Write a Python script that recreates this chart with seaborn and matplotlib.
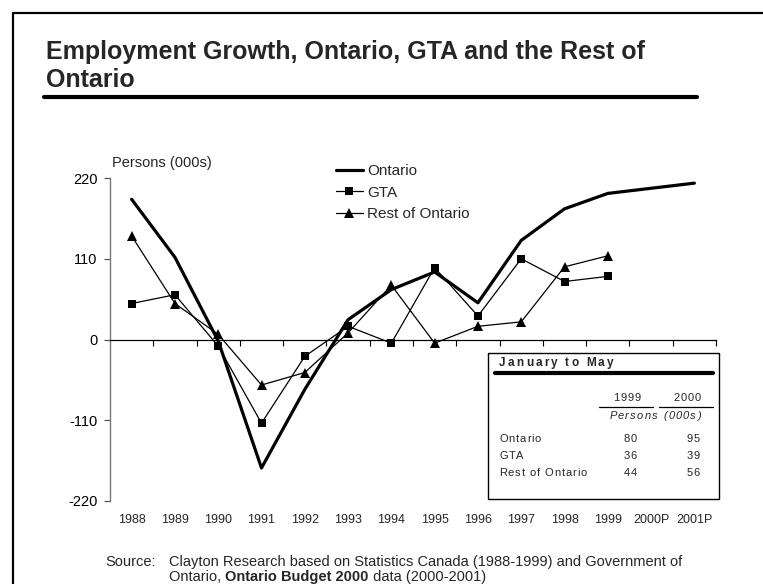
import matplotlib
matplotlib.use("Agg")
import matplotlib.pyplot as plt
from matplotlib.lines import Line2D
from matplotlib.patches import Rectangle
import numpy as np
import seaborn as sns

# ---- data -------------------------------------------------------------
years = ["1988", "1989", "1990", "1991", "1992", "1993", "1994", "1995",
         "1996", "1997", "1998", "1999", "2000P", "2001P"]
ontario = [191, 112, -2, -175, -68, 27, 68, 92, 50, 135, 178, 199, 206, 213]
gta = [49, 61, -9, -114, -23, 18, -5, 98, 32, 110, 79, 86]
rest_of_ontario = [141, 49, 7, -62, -45, 9, 74, -5, 18, 24, 99, 114]
y_ticks = [-220, -110, 0, 110, 220]

table_title = "January to May"
table_years = ["1999", "2000"]
table_rows = ["Ontario", "GTA", "Rest of Ontario"]
table_1999 = [80, 36, 44]
table_2000 = [95, 39, 56]

# ---- styling ----------------------------------------------------------
sns.set_theme(style="white")
plt.rcParams["font.family"] = ["Liberation Sans", "DejaVu Sans"]

W, H = 763, 584
fig = plt.figure(figsize=(W / 100, H / 100), dpi=100)
fig.patch.set_facecolor("white")


def fx(px):
    return px / W


def fy(py):
    return 1 - py / H


renderer = fig.canvas.get_renderer()


def text_width(s, **kw):
    t = fig.text(0, 0, s + "|", **kw)
    w = t.get_window_extent(renderer).width
    t.remove()
    b = fig.text(0, 0, "|", **kw)
    wb = b.get_window_extent(renderer).width
    b.remove()
    return w - wb


def spaced_text(x_px, y_px, s, track=1.0, ha="left", **kw):
    """Draw text with extra letter spacing; y_px is the baseline."""
    total = text_width(s, **kw) + track * (len(s) - 1)
    if ha == "right":
        x0 = x_px - total
    elif ha == "center":
        x0 = x_px - total / 2
    else:
        x0 = x_px
    for i, ch in enumerate(s):
        if ch == " ":
            continue
        off = text_width(s[:i], **kw) + track * i
        fig.text(fx(x0 + off), fy(y_px), ch, ha="left", va="baseline", **kw)


# ---- frame and title --------------------------------------------------
fig.add_artist(Line2D([fx(13), fx(13)], [fy(13), 0], color="black", lw=1.6))
fig.add_artist(Line2D([fx(13), 1], [fy(13), fy(13)], color="black", lw=1.6))
fig.text(fx(46), fy(52), "Employment Growth, Ontario, GTA and the Rest of",
         fontsize=18, weight="bold", va="center", ha="left")
fig.text(fx(46), fy(80), "Ontario", fontsize=18, weight="bold",
         va="center", ha="left")
fig.add_artist(Line2D([fx(44), fx(697)], [fy(97), fy(97)], color="black", lw=3))

# ---- chart ------------------------------------------------------------
ax = fig.add_axes([fx(110), fy(501), 606 / W, 323 / H])
ax.set_facecolor("white")
pos = np.arange(len(years))

sns.lineplot(x=pos, y=ontario, ax=ax, color="black", lw=2.3, label="Ontario")
sns.lineplot(x=pos[:len(gta)], y=gta, ax=ax, color="black", lw=0.9,
             marker="s", markersize=6, markeredgewidth=0, label="GTA")
sns.lineplot(x=pos[:len(rest_of_ontario)], y=rest_of_ontario, ax=ax,
             color="black", lw=0.9, marker="^", markersize=6.5,
             markeredgewidth=0, label="Rest of Ontario")

ax.set_xlim(-0.5, len(years) - 0.5)
ax.set_ylim(-220, 220)
for s in ("top", "right"):
    ax.spines[s].set_visible(False)
ax.spines["bottom"].set_position(("data", 0))
ax.spines["bottom"].set_color("black")
ax.spines["bottom"].set_linewidth(0.9)
ax.spines["left"].set_color("#777777")
ax.spines["left"].set_linewidth(1.0)

ax.set_yticks(y_ticks)
ax.set_yticklabels([str(v) for v in y_ticks])
ax.tick_params(axis="y", left=True, length=4, width=0.9, color="#555555",
               labelsize=10.5, pad=5, labelcolor="black")
ax.set_xticks(np.arange(0.5, len(years), 1.0))
ax.tick_params(axis="x", bottom=True, length=4, width=0.8, color="black",
               labelbottom=False, direction="out")
ax.set_xlabel("")
ax.set_ylabel("")

sec = ax.secondary_xaxis(0)
sec.set_xticks(pos)
sec.set_xticklabels(years)
sec.tick_params(length=0, pad=9.5, labelsize=9)
sec.spines["bottom"].set_visible(False)

ax.legend(loc="upper left", bbox_to_anchor=(fx(336), fy(164)),
          bbox_transform=fig.transFigure, frameon=False, fontsize=11,
          handlelength=1.75, handletextpad=0.3, labelspacing=0.5,
          borderpad=0, borderaxespad=0)

fig.text(fx(112), fy(163), "Persons (000s)", fontsize=10.5, va="center",
         ha="left")

# ---- inset table ------------------------------------------------------
fig.add_artist(Rectangle((fx(488), fy(499)), (719 - 488) / W, (499 - 353) / H,
                         transform=fig.transFigure, facecolor="white",
                         edgecolor="black", lw=1.0, zorder=5))
tkw = dict(fontsize=8, zorder=6)
spaced_text(499, 366, table_title, track=2.2, fontsize=8.5, weight="bold",
            zorder=6)
fig.add_artist(Line2D([fx(495), fx(713)], [fy(373), fy(373)], color="black",
                      lw=3, zorder=6))
spaced_text(627, 401, table_years[0], track=0.9, ha="center", **tkw)
spaced_text(701, 401, table_years[1], track=0.9, ha="right", **tkw)
fig.add_artist(Line2D([fx(599), fx(653)], [fy(407), fy(407)], color="black",
                      lw=0.9, zorder=6))
fig.add_artist(Line2D([fx(659), fx(713)], [fy(407), fy(407)], color="black",
                      lw=0.9, zorder=6))
spaced_text(701, 419, "Persons (000s)", track=1.2, ha="right",
            style="italic", **tkw)
for i, (lab, a, b) in enumerate(zip(table_rows, table_1999, table_2000)):
    yb = 442 + i * 17
    spaced_text(499, yb, lab, track=0.9, **tkw)
    spaced_text(637, yb, str(a), track=0.9, ha="right", **tkw)
    spaced_text(700, yb, str(b), track=0.9, ha="right", **tkw)

# ---- source note ------------------------------------------------------
sfs = 10.5
skw = dict(fontsize=sfs, va="center", ha="left")
fig.text(fx(105), fy(562), "Source:", **skw)
fig.text(fx(169), fy(562),
         "Clayton Research based on Statistics Canada (1988-1999) and "
         "Government of", **skw)
x0 = 169
part1 = "Ontario, "
part2 = "Ontario Budget 2000"
part3 = " data (2000-2001)"
fig.text(fx(x0), fy(577), part1, **skw)
x1 = x0 + text_width(part1, fontsize=sfs)
fig.text(fx(x1), fy(577), part2, weight="bold", **skw)
x2 = x1 + text_width(part2, fontsize=sfs, weight="bold")
fig.text(fx(x2), fy(577), part3, **skw)

fig.savefig("out.png", dpi=100, facecolor="white")
